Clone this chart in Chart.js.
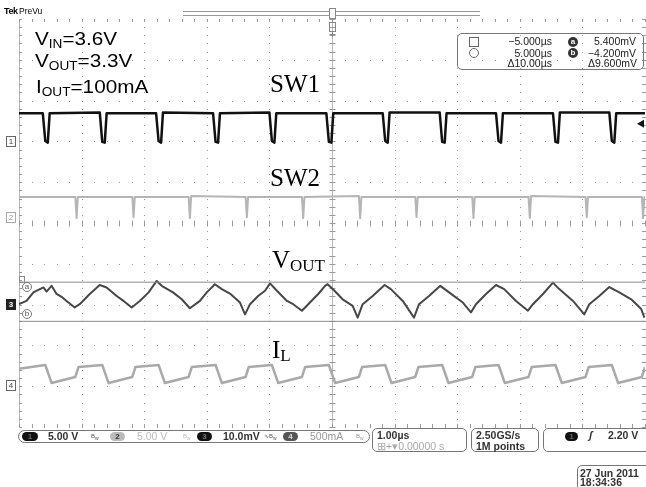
<!DOCTYPE html>
<html>
<head>
<meta charset="utf-8">
<script src="https://cdn.jsdelivr.net/npm/chart.js@4.4.1/dist/chart.umd.min.js"></script>
<style>
body { margin: 0; background: #fff; }
#wrap { position: relative; width: 646px; height: 487px; overflow: hidden; font-family: "Liberation Sans", Arial, sans-serif; }
#scope { position: absolute; left: 0; top: 0; }
.t { position: absolute; white-space: nowrap; line-height: 1; }
.lbl { font-family: "Liberation Serif", "Times New Roman", serif; font-size: 25px; color: #000; }
.lbl .s { font-size: 17px; position: relative; top: 3px; }
.cond { font-size: 19px; color: #000; transform: scaleX(1.09); transform-origin: left top; }
.cond .s { font-size: 12.5px; position: relative; top: 3px; }
.ro { font-size: 10.5px; color: #222; text-align: right; }
.sb { font-size: 10.5px; font-weight: bold; color: #333; }
.box { position: absolute; border: 1px solid #777; border-radius: 5px; box-sizing: border-box; }
.bdg { position: absolute; height: 9px; border-radius: 5px; font-size: 8px; font-weight: bold; line-height: 9px; text-align: center; }
.mk { position: absolute; width: 8px; height: 9px; border: 1px solid #666; font-size: 8px; line-height: 9px; text-align: center; color: #444; box-sizing: content-box; }
.cur { position: absolute; width: 8px; height: 8px; border: 1px solid #777; border-radius: 50%; font-size: 8px; line-height: 8px; text-align: center; color: #555; }
.bw { font-size: 6px; color: #555; }
</style>
</head>
<body>
<div id="wrap">
<canvas id="scope" width="646" height="487"></canvas>

<div class="t" style="left:4px;top:7px;font-size:9px;font-weight:bold;letter-spacing:-0.4px;">Tek</div>
<div class="t" style="left:19px;top:7px;font-size:8.5px;">PreVu</div>

<div class="t cond" style="left:35px;top:29px;">V<span class="s">IN</span>=3.6V</div>
<div class="t cond" style="left:35px;top:51px;">V<span class="s">OUT</span>=3.3V</div>
<div class="t cond" style="left:36px;top:77px;">I<span class="s">OUT</span>=100mA</div>

<div class="t lbl" style="left:270px;top:71px;">SW1</div>
<div class="t lbl" style="left:270px;top:165px;">SW2</div>
<div class="t lbl" style="left:272px;top:247px;">V<span class="s">OUT</span></div>
<div class="t lbl" style="left:272px;top:337px;">I<span class="s">L</span></div>

<!-- cursor readout -->
<div class="box" style="left:457px;top:33px;width:187px;height:37px;"></div>
<div style="position:absolute;left:469px;top:37px;width:8px;height:8px;border:1px solid #666;"></div>
<div style="position:absolute;left:469px;top:48px;width:8px;height:8px;border:1px solid #666;border-radius:50%;"></div>
<div class="t ro" style="left:480px;top:36px;width:72px;">&minus;5.000µs</div>
<div class="t ro" style="left:480px;top:48px;width:72px;">5.000µs</div>
<div class="t ro" style="left:480px;top:58px;width:72px;">&Delta;10.00µs</div>
<div class="bdg" style="left:568px;top:37px;width:10px;height:10px;border-radius:50%;background:#333;color:#fff;line-height:10px;">a</div>
<div class="bdg" style="left:568px;top:48px;width:10px;height:10px;border-radius:50%;background:#333;color:#fff;line-height:10px;">b</div>
<div class="t ro" style="left:575px;top:36px;width:61px;">5.400mV</div>
<div class="t ro" style="left:575px;top:48px;width:61px;">&minus;4.200mV</div>
<div class="t ro" style="left:575px;top:58px;width:62px;">&Delta;9.600mV</div>

<!-- channel markers -->
<div class="mk" style="left:6px;top:136px;">1</div>
<div class="mk" style="left:6px;top:212px;border-color:#aaa;color:#999;">2</div>
<div class="mk" style="left:6px;top:299px;background:#222;border-color:#222;color:#fff;font-weight:bold;">3</div>
<div class="mk" style="left:6px;top:380px;">4</div>
<div style="position:absolute;left:19px;top:276px;width:4px;height:5px;border:1px solid #888;"></div>
<div class="cur" style="left:22px;top:282px;">a</div>
<div class="cur" style="left:22px;top:309px;">b</div>

<!-- status bar -->
<div class="box" style="left:18px;top:430px;width:352px;height:13px;border-radius:7px;"></div>
<div class="bdg" style="left:22px;top:432px;width:16px;background:#111;color:#666;">1</div>
<div class="t sb" style="left:48px;top:431px;">5.00 V</div>
<div class="t bw" style="left:91px;top:433px;">B<sub>w</sub></div>
<div class="bdg" style="left:110px;top:432px;width:15px;background:#bbb;color:#333;">2</div>
<div class="t sb" style="left:137px;top:431px;color:#bbb;font-weight:normal;">5.00 V</div>
<div class="t bw" style="left:183px;top:433px;color:#bbb;">B<sub>w</sub></div>
<div class="bdg" style="left:197px;top:432px;width:15px;background:#111;color:#777;">3</div>
<div class="t sb" style="left:223px;top:431px;">10.0mV</div>
<div class="t bw" style="left:264px;top:433px;">∿B<sub>w</sub></div>
<div class="bdg" style="left:283px;top:432px;width:15px;background:#555;color:#ddd;">4</div>
<div class="t sb" style="left:310px;top:431px;color:#999;font-weight:normal;">500mA</div>
<div class="t bw" style="left:356px;top:433px;color:#999;">B<sub>w</sub></div>

<div class="box" style="left:372px;top:428px;width:95px;height:24px;"></div>
<div class="t sb" style="left:377px;top:430px;">1.00µs</div>
<div class="t sb" style="left:377px;top:441px;color:#aaa;font-weight:normal;">&#x229E;+&#x25BE;0.00000 s</div>
<div class="box" style="left:471px;top:428px;width:68px;height:24px;"></div>
<div class="t sb" style="left:476px;top:430px;">2.50GS/s</div>
<div class="t sb" style="left:476px;top:441px;">1M points</div>
<div class="box" style="left:543px;top:428px;width:110px;height:24px;"></div>
<div class="bdg" style="left:565px;top:432px;width:13px;background:#111;color:#666;">1</div>
<div class="t sb" style="left:589px;top:430px;font-style:italic;">&#x0283;</div>
<div class="t sb" style="left:608px;top:430px;">2.20 V</div>

<div class="box" style="left:577px;top:465px;width:76px;height:30px;"></div>
<div class="t sb" style="left:580px;top:468px;">27 Jun 2011</div>
<div class="t sb" style="left:580px;top:477px;">18:34:36</div>
</div>

<script>
// horizontal: microseconds, 1.00 µs/div over 10 divisions
const xMin = -5, xMax = 5;

// CH1 - SW1 node, volts
const sw1Time = [-5.00,
  -4.62, -4.58, -4.54, -4.51,  -3.71, -3.67, -3.63, -3.60,  -2.81, -2.77, -2.73, -2.70,
  -1.90, -1.86, -1.82, -1.79,  -1.00, -0.96, -0.92, -0.89,  -0.09, -0.05, -0.01, 0.02,
  0.81, 0.85, 0.89, 0.92,  1.72, 1.76, 1.80, 1.83,  2.62, 2.66, 2.70, 2.73,
  3.53, 3.57, 3.61, 3.64,  4.43, 4.47, 4.51, 4.54,
  5.00];
const sw1Volt = [3.5,
  3.5, 0.1, -0.1, 3.5,  3.6, 0.0, -0.1, 3.5,  3.5, 0.1, -0.1, 3.6,
  3.5, 0.0, -0.1, 3.5,  3.6, 0.1, -0.1, 3.5,  3.5, 0.0, -0.1, 3.5,
  3.5, 0.1, -0.1, 3.6,  3.6, 0.0, -0.1, 3.5,  3.5, 0.1, -0.1, 3.5,
  3.5, 0.0, -0.1, 3.6,  3.6, 0.1, -0.1, 3.5,
  3.5];

// CH2 - SW2 node, volts
const sw2Time = [-5.00,
  -4.10, -4.08, -4.06,  -3.19, -3.17, -3.15,  -2.29, -2.27, -2.25,  -1.38, -1.36, -1.34,
  -0.48, -0.46, -0.44,  0.43, 0.45, 0.47,  1.33, 1.35, 1.37,  2.24, 2.26, 2.28,
  3.14, 3.16, 3.18,  4.05, 4.07, 4.09,  4.95, 4.97, 4.99,
  5.00];
const sw2Volt = [2.6,
  2.6, 0.0, 2.6,  2.6, 0.1, 2.6,  2.6, 0.0, 2.7,  2.6, 0.1, 2.6,
  2.6, 0.0, 2.6,  2.7, 0.0, 2.6,  2.6, 0.1, 2.6,  2.6, 0.0, 2.6,
  2.6, 0.0, 2.7,  2.6, 0.1, 2.6,  2.6, 0.0, 2.6,
  2.6];

// CH3 - VOUT ripple, millivolts
const voutTime = [-5.00, -4.88, -4.77, -4.61, -4.56, -4.48, -4.40, -4.32, -4.24, -4.11,
  -4.03, -3.87, -3.71, -3.60, -3.44, -3.33, -3.20, -3.07, -2.93, -2.80,
  -2.72, -2.54, -2.40, -2.27, -2.11, -2.00, -1.87, -1.76, -1.63, -1.47,
  -1.39, -1.31, -1.18, -1.07, -0.99, -0.88, -0.72, -0.62, -0.48, -0.38,
  -0.22, -0.11, -0.07, 0.04, 0.17, 0.33, 0.41, 0.49, 0.65, 0.84,
  0.94, 1.13, 1.31, 1.39, 1.55, 1.73, 1.87, 2.09, 2.22, 2.30,
  2.46, 2.62, 2.75, 2.94, 3.13, 3.21, 3.37, 3.53, 3.63, 3.85,
  4.03, 4.11, 4.27, 4.43, 4.59, 4.78, 4.94, 4.99];
const voutMv = [0, 0.8, 2.9, 4.1, 3.1, 4.5, 2.5, 1.8, 0.8, -0.8,
  0, 2.5, 4.7, 4.1, 2.0, 0.8, -0.8, 0.8, 2.9, 5.7,
  4.5, 2.9, 1.2, -1.0, 0.8, 2.9, 4.9, 3.7, 2.6, 0.4,
  -2.5, 0, 2.0, 3.3, 5.1, 3.3, 0.8, 0, -1.6, 0,
  2.5, 4.5, 4.9, 3.3, 1.2, -0.4, -3.3, 0, 2.0, 4.7,
  3.7, 0.8, -3.3, 0, 2.0, 4.5, 2.9, 0.4, -2.0, 0,
  2.5, 4.7, 3.7, 0.8, -1.6, 0, 2.5, 5.3, 3.7, 0.8,
  -2.5, 0, 2.0, 4.2, 2.9, 1.2, -1.2, -3.3];

// CH4 - inductor current, milliamps
const ilTime = [-5.00,
  -4.58, -4.48, -4.10, -4.05,  -3.67, -3.57, -3.19, -3.14,  -2.77, -2.67, -2.29, -2.24,
  -1.86, -1.76, -1.38, -1.33,  -0.96, -0.86, -0.48, -0.43,  -0.05, 0.05, 0.43, 0.48,
  0.85, 0.95, 1.33, 1.38,  1.76, 1.86, 2.24, 2.29,  2.66, 2.76, 3.14, 3.19,
  3.57, 3.67, 4.05, 4.10,  4.47, 4.57, 4.95, 5.00];
const ilMa = [200,
  245, 25, 98, 220,  245, 25, 98, 220,  245, 25, 98, 220,
  245, 25, 98, 220,  245, 25, 98, 220,  245, 25, 98, 220,
  245, 25, 98, 220,  245, 25, 98, 220,  245, 25, 98, 220,
  245, 25, 98, 220,  245, 25, 98, 220];

// horizontal cursors a / b on CH3, millivolts
const cursorMv = [5.4, -4.2];

// vertical setup: units per division, ground position in divisions from centre
const ch1 = { perDiv: 5, pos: 1.99 };
const ch2 = { perDiv: 5, pos: 0.12 };
const ch3 = { perDiv: 10, pos: -1.99 };
const ch4 = { perDiv: 500, pos: -3.97 };

function pts(t, v, c) {
  return t.map((x, i) => ({ x: x, y: c.pos + v[i] / c.perDiv }));
}

const graticule = {
  id: 'graticule',
  beforeDatasetsDraw(chart) {
    const ctx = chart.ctx, a = chart.chartArea;
    const xs = chart.scales.x, ys = chart.scales.y;
    ctx.save();
    ctx.fillStyle = '#9a9a9a';
    // dotted division lines
    for (let i = -5; i <= 5; i++) {
      const px = Math.round(xs.getPixelForValue(i));
      for (let j = -25; j <= 25; j++) {
        ctx.fillRect(px, Math.round(ys.getPixelForValue(j / 5)), 1, 1);
      }
      const py = Math.round(ys.getPixelForValue(i));
      for (let j = -25; j <= 25; j++) {
        ctx.fillRect(Math.round(xs.getPixelForValue(j / 5)), py, 1, 1);
      }
    }
    // centre cross and edges with minor ticks
    const cx = Math.round(xs.getPixelForValue(0)) + 0.5;
    const cy = Math.round(ys.getPixelForValue(0)) + 0.5;
    ctx.strokeStyle = '#b8b8b8';
    ctx.lineWidth = 1;
    ctx.beginPath();
    ctx.moveTo(cx, a.top); ctx.lineTo(cx, a.bottom);
    ctx.moveTo(a.left + 0.5, a.top); ctx.lineTo(a.left + 0.5, a.bottom);
    ctx.stroke();
    ctx.strokeStyle = '#9a9a9a';
    ctx.beginPath();
    for (let j = -25; j <= 25; j++) {
      const py = Math.round(ys.getPixelForValue(j / 5)) + 0.5;
      const px = Math.round(xs.getPixelForValue(j / 5)) + 0.5;
      ctx.moveTo(cx - 3, py); ctx.lineTo(cx + 3, py);
      ctx.moveTo(px, cy - 3); ctx.lineTo(px, cy + 3);
      ctx.moveTo(a.left, py); ctx.lineTo(a.left + 3, py);
      ctx.moveTo(a.right - 3, py); ctx.lineTo(a.right, py);
      ctx.moveTo(px, a.top); ctx.lineTo(px, a.top + 3);
      ctx.moveTo(px, a.bottom - 3); ctx.lineTo(px, a.bottom);
    }
    ctx.stroke();
    ctx.restore();
  },
  afterDraw(chart) {
    const ctx = chart.ctx;
    const xs = chart.scales.x, ys = chart.scales.y;
    const cx = Math.round(xs.getPixelForValue(0)) + 0.5;
    ctx.save();
    // record view bar and trigger position marker
    ctx.strokeStyle = '#999';
    ctx.lineWidth = 1;
    ctx.beginPath();
    ctx.moveTo(183, 11.5); ctx.lineTo(480, 11.5);
    ctx.moveTo(183, 15.5); ctx.lineTo(480, 15.5);
    ctx.stroke();
    ctx.fillStyle = '#fff';
    ctx.fillRect(cx - 3.5, 8, 7, 11);
    ctx.strokeStyle = '#888';
    ctx.strokeRect(cx - 3, 8.5, 6, 10);
    ctx.strokeRect(cx - 3, 22.5, 6, 9);
    ctx.beginPath();
    ctx.moveTo(cx, 31); ctx.lineTo(cx, 37);
    ctx.moveTo(cx - 3, 34.5); ctx.lineTo(cx + 3, 34.5);
    ctx.stroke();
    // trigger level arrow on CH1
    const ty = ys.getPixelForValue(ch1.pos + 2.2 / ch1.perDiv);
    ctx.fillStyle = '#111';
    ctx.beginPath();
    ctx.moveTo(637, ty); ctx.lineTo(644, ty - 4); ctx.lineTo(644, ty + 4);
    ctx.closePath();
    ctx.fill();
    ctx.restore();
  }
};

new Chart(document.getElementById('scope'), {
  type: 'line',
  data: {
    datasets: [
      { data: pts([xMin, xMax], [cursorMv[0], cursorMv[0]], ch3), borderColor: '#8a8a8a', borderWidth: 1 },
      { data: pts([xMin, xMax], [cursorMv[1], cursorMv[1]], ch3), borderColor: '#8a8a8a', borderWidth: 1 },
      { data: pts(ilTime, ilMa, ch4), borderColor: '#a9a9a9', borderWidth: 2.5 },
      { data: pts(sw2Time, sw2Volt, ch2), borderColor: '#b5b5b5', borderWidth: 2 },
      { data: pts(voutTime, voutMv, ch3), borderColor: '#474747', borderWidth: 2 },
      { data: pts(sw1Time, sw1Volt, ch1), borderColor: '#111', borderWidth: 2.5 }
    ]
  },
  options: {
    responsive: false,
    animation: false,
    layout: { padding: { left: 19, right: 1, top: 19, bottom: 60 } },
    elements: { point: { radius: 0 }, line: { tension: 0, borderJoinStyle: 'round' } },
    plugins: { legend: { display: false }, tooltip: { enabled: false } },
    scales: {
      x: { type: 'linear', min: xMin, max: xMax, display: false },
      y: { type: 'linear', min: -5, max: 5, display: false }
    }
  },
  plugins: [graticule]
});
</script>
</body>
</html>
